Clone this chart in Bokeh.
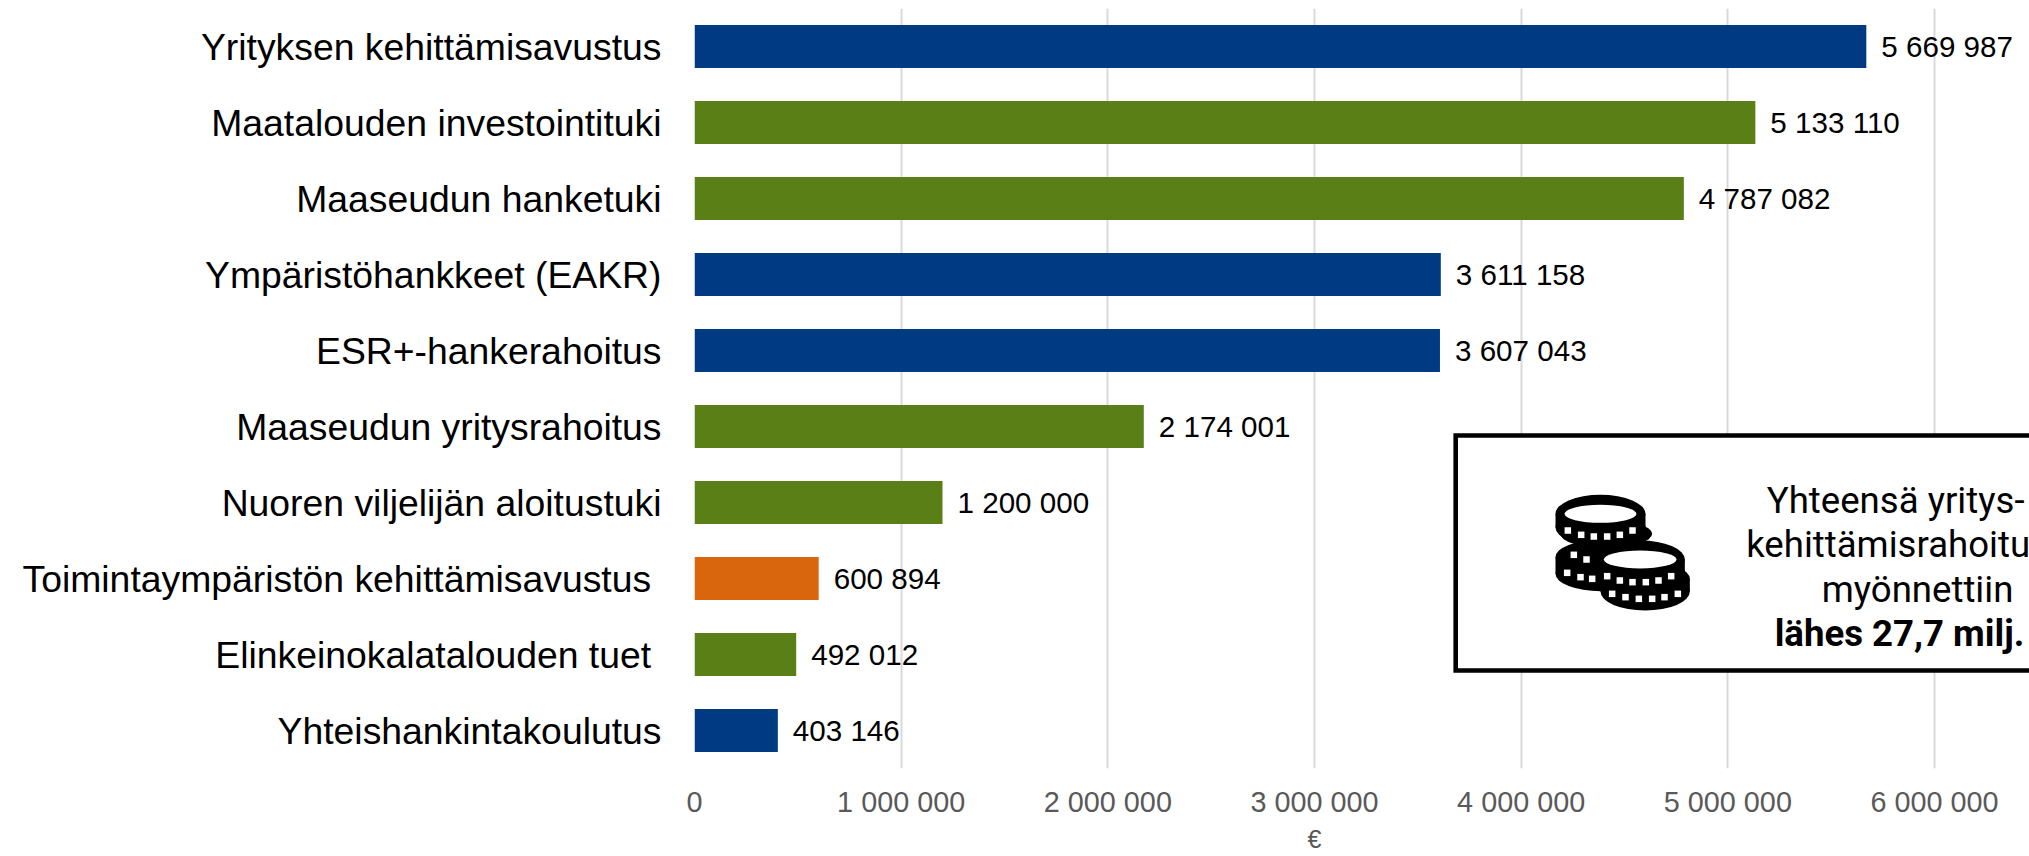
from bokeh.plotting import figure
from bokeh.embed import file_html
from bokeh.resources import INLINE
from bokeh.models import ColumnDataSource, Range1d, FixedTicker, Title
from bokeh.core.properties import value

categories = ["Yrityksen kehittämisavustus", "Maatalouden investointituki", "Maaseudun hanketuki",
              "Ympäristöhankkeet (EAKR)", "ESR+-hankerahoitus", "Maaseudun yritysrahoitus",
              "Nuoren viljelijän aloitustuki", "Toimintaympäristön kehittämisavustus\u00a0",
              "Elinkeinokalatalouden tuet\u00a0", "Yhteishankintakoulutus"]
amounts = [5669987, 5133110, 4787082, 3611158, 3607043, 2174001, 1200000, 600894, 492012, 403146]
amount_labels = ["5 669 987", "5 133 110", "4 787 082", "3 611 158", "3 607 043",
                 "2 174 001", "1 200 000", "600 894", "492 012", "403 146"]
BLUE, GREEN, ORANGE = "#003A82", "#5A7F17", "#D9650C"
bar_colors = [BLUE, GREEN, GREEN, BLUE, BLUE, GREEN, GREEN, ORANGE, GREEN, BLUE]
tick_values = [0, 1000000, 2000000, 3000000, 4000000, 5000000, 6000000]
tick_labels = ["0", "1 000 000", "2 000 000", "3 000 000", "4 000 000", "5 000 000", "6 000 000"]
box_lines = ["Yhteensä yritys- ja", "kehittämisrahoitusta", "myönnettiin", "lähes 27,7 milj. €"]

rows = list(range(len(categories)))

p = figure(width=2029, height=856, output_backend="svg", toolbar_location=None,
           y_range=Range1d(9.5, -0.5), x_range=Range1d(0, 6459600),
           min_border_left=694, min_border_right=0, min_border_top=8, min_border_bottom=88)
p.outline_line_color = None
p.extra_x_ranges["px"] = Range1d(694, 2029)
p.extra_y_ranges["px"] = Range1d(768, 8)
PX = dict(x_range_name="px", y_range_name="px")

p.ygrid.visible = False
p.xgrid.grid_line_color = "#D9D9D9"
p.xgrid.grid_line_width = 2
p.xgrid.ticker = FixedTicker(ticks=tick_values)

ax = p.xaxis[0]
ax.ticker = FixedTicker(ticks=tick_values)
ax.major_label_overrides = dict(zip(tick_values, tick_labels))
ax.axis_line_color = None
ax.major_tick_line_color = None
ax.minor_tick_line_color = None
ax.major_label_text_font = "Liberation Sans"
ax.major_label_text_font_size = "28.8px"
ax.major_label_text_color = "#595959"
ax.major_label_standoff = 11

ay = p.yaxis[0]
ay.ticker = FixedTicker(ticks=rows)
ay.major_label_overrides = dict(zip(rows, categories))
ay.axis_line_color = None
ay.major_tick_line_color = None
ay.minor_tick_line_color = None
ay.major_label_text_font = "Liberation Sans"
ay.major_label_text_font_size = "37.33px"
ay.major_label_text_color = "#000000"
ay.major_label_standoff = 27

src = ColumnDataSource(dict(row=rows, val=amounts, lab=amount_labels, col=bar_colors))
p.hbar(y="row", right="val", left=0, height=0.566, fill_color="col", line_color=None, source=src)
p.text(x="val", y="row", text="lab", source=src, x_offset=15, text_align="left", text_baseline="middle",
       text_font=value("Liberation Sans"), text_font_size="29.6px", text_color="#000000")

# info box, in page pixels
p.quad(left=[1455.2], right=[2100], top=[435], bottom=[670], fill_color="#FFFFFF",
       line_color="#000000", line_width=4.6, line_join="miter", **PX)

def zx(v):
    return 1540 + v / 3
def zy(v):
    return 485 + v / 3

# coin icon: ellipses (cx, cy, rx, ry) in zoom units
black = [(180, 85, 135, 57), (180, 125, 135, 57), (197, 145, 138, 42), (180, 215, 135, 52), (180, 265, 135, 52),
         (299, 222, 134, 57), (299, 262, 134, 57), (314, 280, 134, 52), (314, 318, 134, 57)]
p.ellipse(x=[zx(b[0]) for b in black], y=[zy(b[1]) for b in black], width=[b[2] * 2 / 3 for b in black],
          height=[b[3] * 2 / 3 for b in black], fill_color="#000000", line_color=None, **PX)
p.quad(left=[zx(45), zx(45), zx(165), zx(180)], right=[zx(315), zx(315), zx(433), zx(448)],
       top=[zy(85), zy(215), zy(222), zy(280)], bottom=[zy(125), zy(265), zy(262), zy(318)],
       fill_color="#000000", line_color=None, **PX)
whites = [(180, 85, 108, 27), (299, 222, 109, 27)]
p.ellipse(x=[zx(w[0]) for w in whites], y=[zy(w[1]) for w in whites], width=[w[2] * 2 / 3 for w in whites],
          height=[w[3] * 2 / 3 for w in whites], fill_color="#FFFFFF", line_color=None, **PX)
dots = [(82, 135), (122, 148), (160, 153), (200, 153), (238, 148), (276, 135),
        (100, 208), (138, 222), (80, 262), (120, 275), (155, 280),
        (200, 272), (238, 285), (276, 290), (316, 290), (354, 285), (392, 272),
        (215, 325), (255, 335), (295, 340), (335, 340), (372, 335), (412, 325)]
p.rect(x=[zx(d[0]) for d in dots], y=[zy(d[1]) for d in dots], width=6.5, height=6.5,
       fill_color="#FFFFFF", line_color=None, **PX)

line_x = [1914, 1913, 1917, 1914]
line_y = [499.5, 544, 588.5, 633]
p.text(x=line_x[:3], y=line_y[:3], text=box_lines[:3], text_align="center", text_baseline="alphabetic",
       text_font=value("Roboto"), text_font_size="36.6px", text_color="#000000", **PX)
p.text(x=line_x[3:], y=line_y[3:], text=box_lines[3:], text_align="center", text_baseline="alphabetic",
       text_font=value("Roboto"), text_font_size="36.6px", text_font_style="bold", text_color="#000000", **PX)

p.add_layout(Title(text="€", align="left", offset=613, standoff=4, text_font="Liberation Sans",
                   text_font_size="25px", text_font_style="normal", text_color="#595959"), "below")

open("out.html", "w").write(file_html(p, INLINE))
